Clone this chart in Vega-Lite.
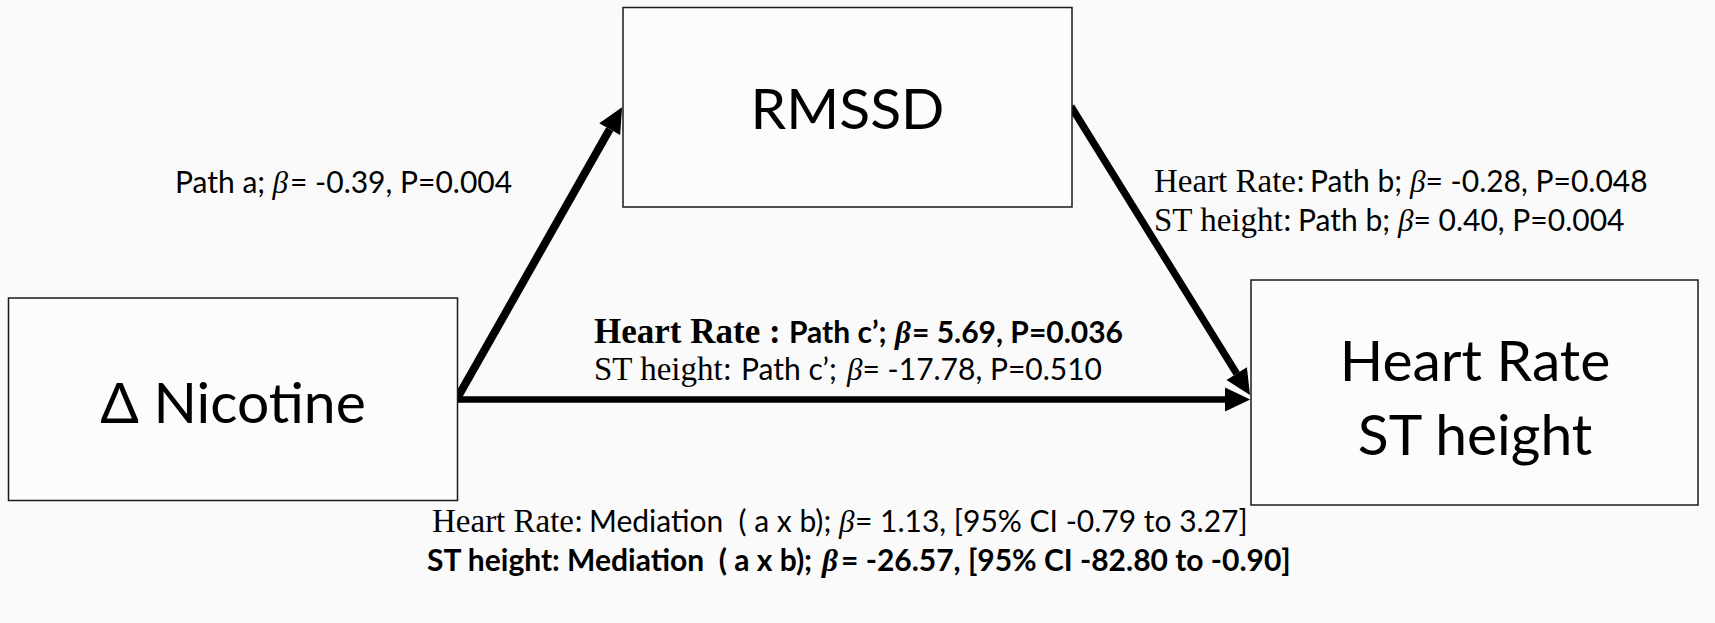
{
  "$schema": "https://vega.github.io/schema/vega-lite/v6.json",
  "width": 1715,
  "height": 623,
  "autosize": {"type": "fit", "contains": "padding"},
  "padding": 0,
  "background": "#fafafa",
  "config": {"view": {"stroke": null}},
  "datasets": {
    "nodes": [
      {"node": "RMSSD", "x1": 623, "x2": 1072, "y1": 7.5, "y2": 207},
      {"node": "Δ Nicotine", "x1": 8.5, "x2": 457.5, "y1": 298, "y2": 500.5},
      {"node": "Heart Rate / ST height", "x1": 1251, "x2": 1698, "y1": 280, "y2": 505}
    ],
    "nodeText": [
      {"node": "RMSSD", "text": "RMSSD", "x": 847.5, "y": 129},
      {"node": "Δ Nicotine", "text": "Δ Nicotine", "x": 233, "y": 422.5},
      {"node": "Heart Rate / ST height", "text": "Heart Rate", "x": 1475, "y": 381},
      {"node": "Heart Rate / ST height", "text": "ST height", "x": 1475, "y": 455}
    ],
    "edges": [
      {"path": "a", "x_from": 457, "y_from": 398.5, "x_to": 609.7, "y_to": 129.2, "heading": -60.6},
      {"path": "b", "x_from": 1071, "y_from": 106.5, "x_to": 1236.7, "y_to": 373.6, "heading": 58.2},
      {"path": "c’", "x_from": 457, "y_from": 399.5, "x_to": 1225, "y_to": 399.5, "heading": 0}
    ],
    "labels": [
      {"path": "a", "role": "stat", "sig": false, "text": "Path a;", "x": 175, "y": 192.5},
      {"path": "a", "role": "beta", "sig": false, "text": "β", "x": 272.4, "y": 192.5},
      {"path": "a", "role": "stat", "sig": false, "text": "= -0.39, P=0.004", "x": 290, "y": 192.5},

      {"path": "b", "role": "outcome", "sig": false, "text": "Heart Rate:", "x": 1154, "y": 192},
      {"path": "b", "role": "stat", "sig": false, "text": "Path b;", "x": 1310, "y": 192},
      {"path": "b", "role": "beta", "sig": false, "text": "β", "x": 1410, "y": 192},
      {"path": "b", "role": "stat", "sig": false, "text": "= -0.28, P=0.048", "x": 1425.5, "y": 192},
      {"path": "b", "role": "outcome", "sig": false, "text": "ST height:", "x": 1154, "y": 231},
      {"path": "b", "role": "stat", "sig": false, "text": "Path b;", "x": 1298, "y": 231},
      {"path": "b", "role": "beta", "sig": false, "text": "β", "x": 1398, "y": 231},
      {"path": "b", "role": "stat", "sig": false, "text": "= 0.40, P=0.004", "x": 1413.5, "y": 231},

      {"path": "c’", "role": "outcome", "sig": true, "text": "Heart Rate :", "x": 594, "y": 342.5},
      {"path": "c’", "role": "stat", "sig": true, "text": "Path c’;", "x": 789, "y": 342.5},
      {"path": "c’", "role": "beta", "sig": true, "text": "β", "x": 895, "y": 342.5},
      {"path": "c’", "role": "stat", "sig": true, "text": "= 5.69, P=0.036", "x": 912, "y": 342.5},
      {"path": "c’", "role": "outcome", "sig": false, "text": "ST height:", "x": 594, "y": 379.5},
      {"path": "c’", "role": "stat", "sig": false, "text": "Path c’;", "x": 741, "y": 379.5},
      {"path": "c’", "role": "beta", "sig": false, "text": "β", "x": 847, "y": 379.5},
      {"path": "c’", "role": "stat", "sig": false, "text": "= -17.78, P=0.510", "x": 862.5, "y": 379.5},

      {"path": "a x b", "role": "outcome", "sig": false, "text": "Heart Rate:", "x": 432, "y": 531.5},
      {"path": "a x b", "role": "stat", "sig": false, "text": "Mediation\u00a0 ( a x b);", "x": 589, "y": 531.5},
      {"path": "a x b", "role": "beta", "sig": false, "text": "β", "x": 839, "y": 531.5},
      {"path": "a x b", "role": "stat", "sig": false, "text": "= 1.13, [95% CI -0.79 to 3.27]", "x": 855, "y": 531.5},
      {"path": "a x b", "role": "stat", "sig": true, "text": "ST height: Mediation\u00a0 ( a x b);", "x": 427, "y": 570.5},
      {"path": "a x b", "role": "beta", "sig": true, "text": "β", "x": 822, "y": 570.5},
      {"path": "a x b", "role": "stat", "sig": true, "text": "= -26.57, [95% CI -82.80 to -0.90]", "x": 841, "y": 570.5}
    ]
  },
  "layer": [
    {
      "data": {"name": "edges"},
      "mark": {"type": "rule", "strokeCap": "butt", "color": "#000000"},
      "encoding": {
        "x": {"field": "x_from", "type": "quantitative", "scale": {"domain": [0, 1715], "nice": false, "zero": false}, "axis": null},
        "y": {"field": "y_from", "type": "quantitative", "scale": {"domain": [0, 623], "nice": false, "zero": false, "reverse": true}, "axis": null},
        "x2": {"field": "x_to"},
        "y2": {"field": "y_to"},
        "strokeWidth": {"field": "path", "type": "nominal", "scale": {"domain": ["a", "b", "c’"], "range": [8, 6.5, 8]}, "legend": null}
      }
    },
    {
      "data": {"name": "edges"},
      "mark": {"type": "point", "shape": "M2.1,0L0,-1L0,1Z", "filled": true, "color": "#000000", "opacity": 1, "size": 576, "strokeWidth": 0},
      "encoding": {
        "x": {"field": "x_to", "type": "quantitative", "scale": {"domain": [0, 1715], "nice": false, "zero": false}, "axis": null},
        "y": {"field": "y_to", "type": "quantitative", "scale": {"domain": [0, 623], "nice": false, "zero": false, "reverse": true}, "axis": null},
        "angle": {"field": "heading", "type": "quantitative", "scale": null}
      }
    },
    {
      "data": {"name": "nodes"},
      "mark": {"type": "rect", "fill": "#fcfcfc", "stroke": "#1a1a1a", "strokeWidth": 1.5},
      "encoding": {
        "x": {"field": "x1", "type": "quantitative", "scale": {"domain": [0, 1715], "nice": false, "zero": false}, "axis": null},
        "x2": {"field": "x2"},
        "y": {"field": "y1", "type": "quantitative", "scale": {"domain": [0, 623], "nice": false, "zero": false, "reverse": true}, "axis": null},
        "y2": {"field": "y2"}
      }
    },
    {
      "data": {"name": "nodeText"},
      "mark": {"type": "text", "font": "Lato", "fontSize": 57, "align": "center", "baseline": "alphabetic", "color": "#000000"},
      "encoding": {
        "x": {"field": "x", "type": "quantitative", "scale": {"domain": [0, 1715], "nice": false, "zero": false}, "axis": null},
        "y": {"field": "y", "type": "quantitative", "scale": {"domain": [0, 623], "nice": false, "zero": false, "reverse": true}, "axis": null},
        "text": {"field": "text"}
      }
    },
    {
      "data": {"name": "labels"},
      "transform": [{"filter": "datum.role === 'outcome' && !datum.sig"}],
      "mark": {"type": "text", "font": "Liberation Serif", "fontSize": 33, "align": "left", "baseline": "alphabetic", "color": "#000000"},
      "encoding": {
        "x": {"field": "x", "type": "quantitative", "scale": {"domain": [0, 1715], "nice": false, "zero": false}, "axis": null},
        "y": {"field": "y", "type": "quantitative", "scale": {"domain": [0, 623], "nice": false, "zero": false, "reverse": true}, "axis": null},
        "text": {"field": "text"}
      }
    },
    {
      "data": {"name": "labels"},
      "transform": [{"filter": "datum.role === 'outcome' && datum.sig"}],
      "mark": {"type": "text", "font": "Liberation Serif", "fontWeight": "bold", "fontSize": 35, "align": "left", "baseline": "alphabetic", "color": "#000000"},
      "encoding": {
        "x": {"field": "x", "type": "quantitative", "scale": {"domain": [0, 1715], "nice": false, "zero": false}, "axis": null},
        "y": {"field": "y", "type": "quantitative", "scale": {"domain": [0, 623], "nice": false, "zero": false, "reverse": true}, "axis": null},
        "text": {"field": "text"}
      }
    },
    {
      "data": {"name": "labels"},
      "transform": [{"filter": "datum.role === 'stat' && !datum.sig"}],
      "mark": {"type": "text", "font": "Lato", "fontSize": 30, "align": "left", "baseline": "alphabetic", "color": "#000000"},
      "encoding": {
        "x": {"field": "x", "type": "quantitative", "scale": {"domain": [0, 1715], "nice": false, "zero": false}, "axis": null},
        "y": {"field": "y", "type": "quantitative", "scale": {"domain": [0, 623], "nice": false, "zero": false, "reverse": true}, "axis": null},
        "text": {"field": "text"}
      }
    },
    {
      "data": {"name": "labels"},
      "transform": [{"filter": "datum.role === 'stat' && datum.sig"}],
      "mark": {"type": "text", "font": "Lato", "fontWeight": "bold", "fontSize": 30, "align": "left", "baseline": "alphabetic", "color": "#000000"},
      "encoding": {
        "x": {"field": "x", "type": "quantitative", "scale": {"domain": [0, 1715], "nice": false, "zero": false}, "axis": null},
        "y": {"field": "y", "type": "quantitative", "scale": {"domain": [0, 623], "nice": false, "zero": false, "reverse": true}, "axis": null},
        "text": {"field": "text"}
      }
    },
    {
      "data": {"name": "labels"},
      "transform": [{"filter": "datum.role === 'beta' && !datum.sig"}],
      "mark": {"type": "text", "font": "Liberation Serif", "fontStyle": "italic", "fontSize": 31, "align": "left", "baseline": "alphabetic", "color": "#000000"},
      "encoding": {
        "x": {"field": "x", "type": "quantitative", "scale": {"domain": [0, 1715], "nice": false, "zero": false}, "axis": null},
        "y": {"field": "y", "type": "quantitative", "scale": {"domain": [0, 623], "nice": false, "zero": false, "reverse": true}, "axis": null},
        "text": {"field": "text"}
      }
    },
    {
      "data": {"name": "labels"},
      "transform": [{"filter": "datum.role === 'beta' && datum.sig"}],
      "mark": {"type": "text", "font": "Liberation Serif", "fontStyle": "italic", "fontWeight": "bold", "fontSize": 31, "align": "left", "baseline": "alphabetic", "color": "#000000"},
      "encoding": {
        "x": {"field": "x", "type": "quantitative", "scale": {"domain": [0, 1715], "nice": false, "zero": false}, "axis": null},
        "y": {"field": "y", "type": "quantitative", "scale": {"domain": [0, 623], "nice": false, "zero": false, "reverse": true}, "axis": null},
        "text": {"field": "text"}
      }
    }
  ]
}
